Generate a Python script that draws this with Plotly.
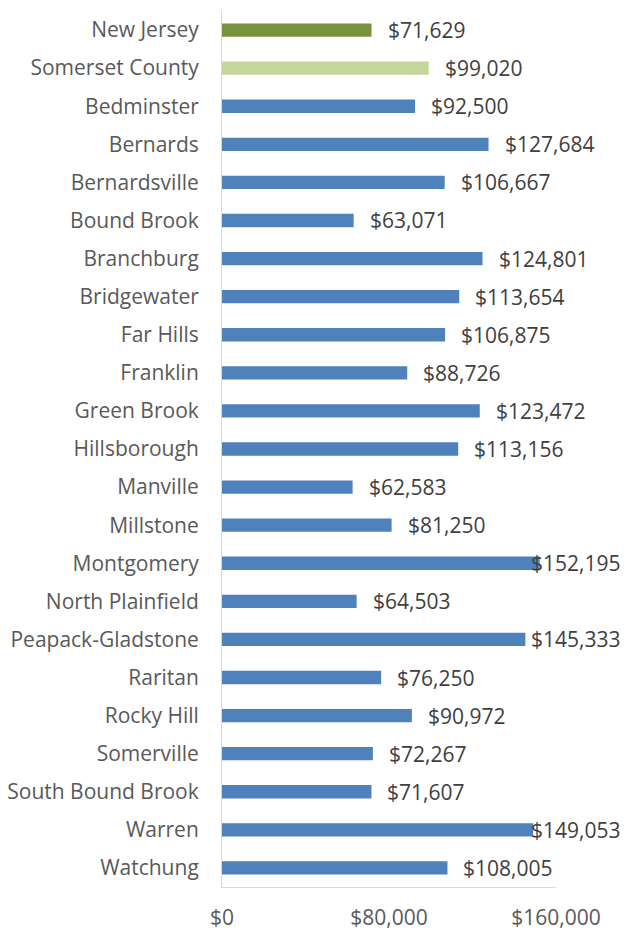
import plotly.graph_objects as go

categories = ["New Jersey", "Somerset County", "Bedminster", "Bernards", "Bernardsville",
              "Bound Brook", "Branchburg", "Bridgewater", "Far Hills", "Franklin",
              "Green Brook", "Hillsborough", "Manville", "Millstone", "Montgomery",
              "North Plainfield", "Peapack-Gladstone", "Raritan", "Rocky Hill", "Somerville",
              "South Bound Brook", "Warren", "Watchung"]
values = [71629, 99020, 92500, 127684, 106667, 63071, 124801, 113654, 106875, 88726,
          123472, 113156, 62583, 81250, 152195, 64503, 145333, 76250, 90972, 72267,
          71607, 149053, 108005]
tick_vals = [0, 80000, 160000]
tick_text = ["$0", "$80,000", "$160,000"]

GREEN_DARK = "#77933C"
GREEN_LIGHT = "#C3D69B"
BLUE = "#4F81BD"
colors = [GREEN_DARK, GREEN_LIGHT] + [BLUE] * (len(categories) - 2)

W, H = 626, 930
ML, MR, MT, MB = 222, 70, 11, 43
plot_w = W - ML - MR
x_max = 160000
AXIS_TEXT = "#595959"
LABEL_TEXT = "#404040"
FONT = "Open Sans"
FS = 21

fig = go.Figure()
fig.add_trace(go.Bar(
    y=categories, x=values, orientation="h",
    marker=dict(color=colors, line=dict(width=0)),
    width=0.35, hoverinfo="skip",
))

# data labels: outside end, constrained inside chart area on the right
right_edge_px = 623
right_paper = 1 + (right_edge_px - (ML + plot_w)) / plot_w
gap = 14
annotations = []
for c, v in zip(categories, values):
    label = "${:,}".format(v)
    est_w = 0.57 * FS * len(label) - 6
    end_px = ML + v / x_max * plot_w + gap + est_w
    if end_px > right_edge_px:
        annotations.append(dict(x=right_paper, xref="paper", y=c, yref="y", text=label,
                                showarrow=False, xanchor="right", yanchor="middle",
                                font=dict(family=FONT, size=FS, color=LABEL_TEXT)))
    else:
        annotations.append(dict(x=v, xref="x", y=c, yref="y", text=label,
                                showarrow=False, xanchor="left", yanchor="middle",
                                xshift=gap, font=dict(family=FONT, size=FS, color=LABEL_TEXT)))

fig.update_layout(
    width=W, height=H,
    margin=dict(l=ML, r=MR, t=MT, b=MB, pad=0, autoexpand=False),
    paper_bgcolor="white", plot_bgcolor="white",
    showlegend=False,
    annotations=annotations,
    font=dict(family=FONT, size=FS, color=AXIS_TEXT),
    xaxis=dict(range=[0, x_max], tickvals=tick_vals, ticktext=tick_text, automargin=False,
               showgrid=False, zeroline=False, showline=True, linecolor="#D9D9D9",
               linewidth=1, ticks="outside", ticklen=12, tickcolor="rgba(0,0,0,0)",
               tickfont=dict(family=FONT, size=FS, color=AXIS_TEXT), fixedrange=True),
    yaxis=dict(autorange="reversed", showgrid=False, zeroline=False, showline=True,
               automargin=False,
               linecolor="#D9D9D9", linewidth=1, ticks="", ticklabelstandoff=18,
               tickfont=dict(family=FONT, size=FS, color=AXIS_TEXT), fixedrange=True),
)

fig.write_html("out.html", config={"displayModeBar": False},
               post_script="document.body.style.margin='0';document.body.style.padding='0';")
